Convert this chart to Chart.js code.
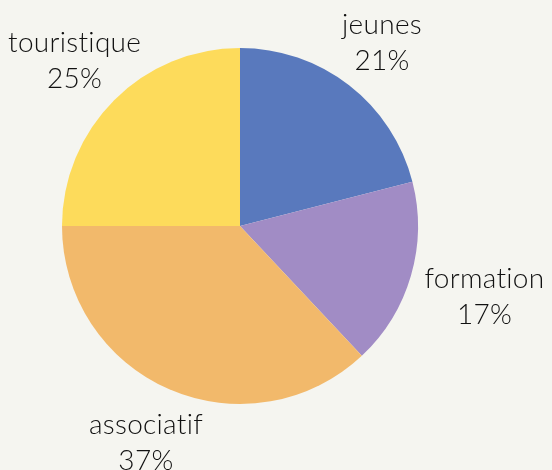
<!DOCTYPE html>
<html>
<head>
<meta charset="utf-8">
<script src="https://cdn.jsdelivr.net/npm/chart.js@4"></script>
<style>
  html, body { margin: 0; padding: 0; background: #f5f5f0; }
  #wrap { width: 552px; height: 470px; }
</style>
</head>
<body>
<div id="wrap"><canvas id="pieChart"></canvas></div>
<script>
const categories = ['jeunes', 'formation', 'associatif', 'touristique'];
const shares = [21, 17, 37, 25];
const colors = ['#5979bd', '#a18cc5', '#f2b96b', '#fddb5b'];

const fontFamily = 'Lato, "DejaVu Sans", sans-serif';

// libellés dessinés autour du camembert
const outerLabels = {
  id: 'outerLabels',
  afterDatasetsDraw(chart) {
    const ctx = chart.ctx;
    const meta = chart.getDatasetMeta(0);
    ctx.save();
    ctx.fillStyle = '#111111';
    ctx.font = '300 28px ' + fontFamily;
    ctx.letterSpacing = '0.3px'; // évite les ligatures "ti"
    ctx.textAlign = 'center';
    ctx.textBaseline = 'middle';
    meta.data.forEach((arc, i) => {
      const mid = (arc.startAngle + arc.endAngle) / 2;
      const h = Math.abs(Math.cos(mid));
      const v = Math.abs(Math.sin(mid));
      const off = 46 + 36 * Math.pow(h, 4) + 28 * Math.pow(v, 10);
      const r = arc.outerRadius + off;
      const x = arc.x + Math.cos(mid) * r;
      const y = arc.y + Math.sin(mid) * r;
      ctx.fillText(categories[i], x, y - 18);
      ctx.fillText(shares[i] + '%', x, y + 18);
    });
    ctx.restore();
  }
};

new Chart(document.getElementById('pieChart').getContext('2d'), {
  type: 'pie',
  data: {
    labels: categories,
    datasets: [{ data: shares, backgroundColor: colors, borderWidth: 0 }]
  },
  options: {
    responsive: true,
    maintainAspectRatio: false,
    animation: false,
    layout: { padding: { left: 62, right: 134, top: 48, bottom: 66 } },
    plugins: {
      legend: { display: false },
      tooltip: { enabled: false }
    }
  },
  plugins: [outerLabels]
});
</script>
</body>
</html>
